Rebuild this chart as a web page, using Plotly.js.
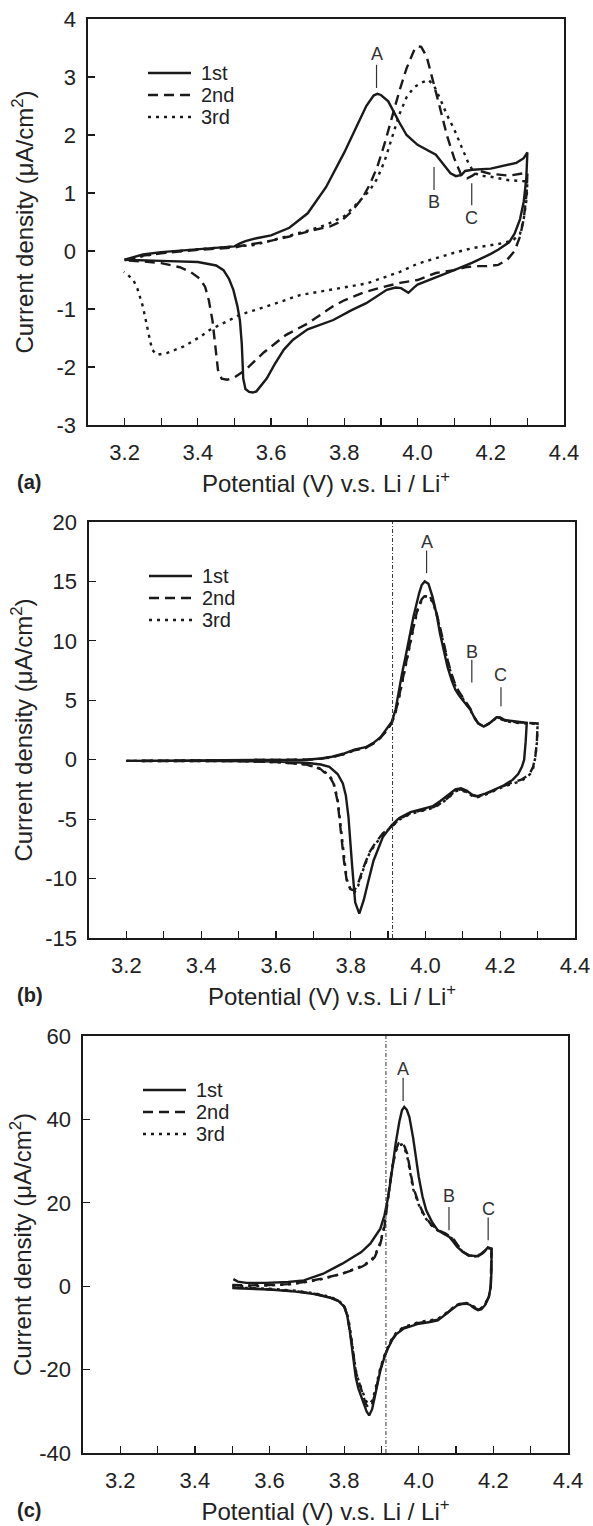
<!DOCTYPE html>
<html><head><meta charset="utf-8">
<script src="https://cdn.plot.ly/plotly-3.0.1.min.js"></script>
<style>html,body{margin:0;padding:0;background:#fff}#chart{width:593px;height:1526px}</style>
</head><body><div id="chart"></div><script>
// ---------- tick labels ----------
const xTickVals = [3.2, 3.4, 3.6, 3.8, 4.0, 4.2, 4.4];
const xTickText = ['3.2', '3.4', '3.6', '3.8', '4.0', '4.2', '4.4'];
const yTickValsA = [-3, -2, -1, 0, 1, 2, 3, 4];
const yTickTextA = ['-3', '-2', '-1', '0', '1', '2', '3', '4'];
const yTickValsB = [-15, -10, -5, 0, 5, 10, 15, 20];
const yTickTextB = ['-15', '-10', '-5', '0', '5', '10', '15', '20'];
const yTickValsC = [-40, -20, 0, 20, 40, 60];
const yTickTextC = ['-40', '-20', '0', '20', '40', '60'];
const cycleNames = ['1st', '2nd', '3rd'];

// ---------- panel (a) ----------
const a1x = [3.20,3.25,3.30,3.40,3.50,3.515,3.53,3.56,3.60,3.65,3.70,3.75,3.80,3.83,3.86,3.88,3.89,3.90,3.92,3.95,3.97,4.00,4.03,4.05,4.07,4.09,4.105,4.12,4.13,4.15,4.20,4.25,4.27,4.29,4.30,
  4.297,4.29,4.28,4.265,4.25,4.22,4.20,4.15,4.10,4.05,4.00,3.99,3.975,3.955,3.94,3.916,3.89,3.86,3.82,3.77,3.70,3.66,3.635,3.61,3.588,3.575,3.56,3.55,3.54,3.53,3.524,3.52,3.515,3.508,3.497,3.485,3.47,3.45,3.40,3.30,3.20];
const a1y = [-0.15,-0.06,-0.02,0.03,0.08,0.13,0.17,0.22,0.27,0.40,0.65,1.10,1.70,2.10,2.50,2.68,2.71,2.69,2.58,2.22,2.00,1.83,1.73,1.66,1.50,1.34,1.29,1.31,1.38,1.40,1.42,1.50,1.52,1.60,1.70,
  1.25,0.85,0.55,0.30,0.15,0.02,-0.05,-0.20,-0.33,-0.45,-0.58,-0.63,-0.72,-0.64,-0.63,-0.67,-0.78,-0.90,-1.02,-1.19,-1.35,-1.53,-1.70,-1.95,-2.20,-2.30,-2.42,-2.44,-2.43,-2.38,-2.20,-1.60,-1.20,-0.95,-0.67,-0.48,-0.33,-0.25,-0.19,-0.17,-0.15];
const a2x = [3.20,3.25,3.30,3.40,3.50,3.52,3.55,3.588,3.65,3.715,3.76,3.788,3.82,3.85,3.87,3.89,3.91,3.93,3.95,3.97,3.99,4.00,4.01,4.025,4.04,4.06,4.08,4.10,4.12,4.135,4.15,4.17,4.20,4.25,4.30,
  4.298,4.29,4.28,4.265,4.245,4.22,4.19,4.16,4.13,4.10,4.05,4.00,3.952,3.906,3.85,3.80,3.77,3.70,3.64,3.58,3.53,3.50,3.48,3.465,3.455,3.447,3.44,3.43,3.42,3.406,3.38,3.351,3.30,3.25,3.20];
const a2y = [-0.16,-0.08,-0.04,0.02,0.06,0.09,0.12,0.16,0.25,0.36,0.42,0.50,0.68,0.92,1.15,1.45,1.85,2.30,2.75,3.15,3.45,3.53,3.52,3.35,3.00,2.50,2.00,1.60,1.30,1.25,1.30,1.38,1.33,1.30,1.35,
  1.00,0.55,0.25,0.00,-0.15,-0.24,-0.26,-0.26,-0.28,-0.33,-0.38,-0.50,-0.55,-0.62,-0.72,-0.85,-0.95,-1.25,-1.45,-1.75,-2.05,-2.18,-2.22,-2.20,-2.05,-1.60,-1.20,-0.85,-0.62,-0.48,-0.36,-0.28,-0.21,-0.18,-0.16];
const a3x = [3.20,3.30,3.40,3.50,3.55,3.60,3.65,3.70,3.75,3.80,3.84,3.87,3.89,3.91,3.93,3.95,3.97,3.99,4.01,4.03,4.045,4.06,4.08,4.10,4.12,4.14,4.155,4.17,4.20,4.25,4.30,
  4.298,4.29,4.28,4.26,4.22,4.15,4.10,4.00,3.952,3.861,3.78,3.679,3.60,3.515,3.433,3.406,3.36,3.315,3.288,3.275,3.268,3.26,3.25,3.235,3.224,3.21,3.198];
const a3y = [-0.15,-0.03,0.03,0.07,0.10,0.18,0.26,0.35,0.45,0.60,0.85,1.05,1.25,1.55,1.95,2.35,2.65,2.82,2.90,2.95,2.85,2.65,2.35,2.10,1.80,1.50,1.35,1.30,1.28,1.22,1.20,
  0.90,0.55,0.30,0.18,0.12,0.05,-0.03,-0.22,-0.36,-0.56,-0.65,-0.76,-0.93,-1.10,-1.36,-1.48,-1.65,-1.76,-1.79,-1.70,-1.50,-1.25,-0.96,-0.65,-0.50,-0.42,-0.36];

// ---------- panel (b) ----------
const b1x = [3.20,3.40,3.60,3.68,3.72,3.75,3.78,3.81,3.84,3.86,3.88,3.895,3.91,3.92,3.927,3.937,3.947,3.958,3.968,3.983,3.99,3.998,4.008,4.019,4.03,4.039,4.049,4.059,4.07,4.08,4.09,4.10,4.11,4.12,4.13,4.141,4.156,4.171,4.19,4.20,4.212,4.243,4.271,
  4.268,4.264,4.258,4.248,4.233,4.21,4.182,4.16,4.139,4.125,4.11,4.095,4.08,4.06,4.039,4.02,3.998,3.96,3.93,3.91,3.886,3.861,3.845,3.835,3.823,3.812,3.804,3.798,3.794,3.787,3.779,3.765,3.743,3.72,3.68,3.60,3.50,3.40,3.20];
const b1y = [-0.10,-0.08,-0.05,0.00,0.10,0.25,0.50,0.85,1.05,1.40,1.90,2.50,3.20,4.20,5.60,7.20,8.70,10.40,12.05,14.00,14.70,15.00,14.80,13.70,12.20,10.60,9.10,7.80,6.70,5.90,5.40,5.00,4.60,4.20,3.60,3.06,2.78,3.06,3.57,3.55,3.34,3.20,3.10,
  1.50,0.00,-0.60,-1.20,-1.70,-2.15,-2.55,-2.85,-3.06,-2.95,-2.60,-2.40,-2.50,-3.00,-3.50,-3.90,-4.10,-4.40,-4.90,-5.50,-6.50,-8.50,-10.50,-11.80,-12.95,-12.00,-9.00,-6.50,-4.80,-3.00,-2.00,-1.20,-0.60,-0.40,-0.25,-0.15,-0.12,-0.10,-0.10];
const b2x = [3.20,3.40,3.60,3.68,3.72,3.75,3.78,3.81,3.84,3.86,3.88,3.895,3.91,3.92,3.93,3.94,3.95,3.96,3.97,3.98,3.99,4.00,4.01,4.02,4.03,4.04,4.05,4.06,4.07,4.08,4.09,4.10,4.11,4.12,4.13,4.141,4.156,4.171,4.19,4.20,4.212,4.243,4.30,
  4.298,4.294,4.288,4.28,4.27,4.255,4.233,4.21,4.182,4.16,4.139,4.125,4.11,4.095,4.08,4.06,4.039,4.02,3.998,3.96,3.93,3.91,3.886,3.866,3.85,3.835,3.82,3.81,3.80,3.789,3.782,3.774,3.765,3.754,3.745,3.72,3.68,3.60,3.50,3.20];
const b2y = [-0.10,-0.08,-0.05,0.00,0.08,0.22,0.45,0.80,1.00,1.35,1.85,2.40,3.10,4.00,5.40,7.00,8.40,10.00,11.50,12.80,13.50,13.85,13.80,13.30,12.30,11.00,9.60,8.30,7.20,6.30,5.70,5.20,4.80,4.30,3.60,3.06,2.80,3.06,3.55,3.50,3.30,3.15,3.05,
  1.50,0.30,-0.60,-1.10,-1.40,-1.70,-1.90,-2.20,-2.60,-2.90,-3.10,-3.00,-2.70,-2.50,-2.60,-3.20,-3.70,-4.00,-4.20,-4.50,-5.00,-5.60,-6.20,-7.00,-7.80,-9.00,-10.40,-11.00,-10.90,-10.10,-8.50,-6.20,-3.50,-2.00,-1.50,-0.80,-0.40,-0.20,-0.12,-0.10];
const b3x = [3.20,3.40,3.60,3.68,3.72,3.75,3.78,3.81,3.84,3.86,3.88,3.895,3.91,3.92,3.93,3.94,3.95,3.96,3.97,3.98,3.99,4.00,4.01,4.02,4.03,4.04,4.05,4.06,4.07,4.08,4.09,4.10,4.11,4.12,4.13,4.141,4.156,4.171,4.19,4.20,4.212,4.243,4.30,
  4.298,4.294,4.288,4.28,4.27,4.255,4.233,4.21,4.182,4.16,4.139,4.125,4.11,4.095,4.08,4.06,4.039,4.02,3.998,3.96,3.93,3.91,3.886,3.866,3.85,3.835,3.82,3.81,3.80,3.789,3.782,3.774,3.765,3.754,3.745,3.72,3.68,3.60,3.50,3.20];
const b3y = [-0.10,-0.08,-0.05,0.00,0.08,0.22,0.45,0.80,1.00,1.35,1.85,2.40,3.10,4.00,5.30,6.90,8.30,9.90,11.40,12.70,13.40,13.75,13.70,13.20,12.20,10.90,9.50,8.20,7.10,6.20,5.60,5.10,4.70,4.20,3.55,3.06,2.80,3.06,3.50,3.45,3.25,3.10,3.00,
  1.40,0.20,-0.70,-1.20,-1.50,-1.80,-2.00,-2.25,-2.65,-2.95,-3.15,-3.05,-2.75,-2.55,-2.65,-3.25,-3.75,-4.05,-4.25,-4.55,-5.05,-5.65,-6.30,-7.10,-7.90,-9.10,-10.60,-11.20,-11.00,-10.00,-8.20,-5.80,-3.30,-1.90,-1.40,-0.75,-0.40,-0.20,-0.12,-0.10];

// ---------- panel (c) ----------
const c1x = [3.503,3.515,3.538,3.59,3.65,3.692,3.744,3.795,3.846,3.87,3.882,3.897,3.908,3.918,3.928,3.938,3.948,3.955,3.961,3.968,3.975,3.985,4.00,4.01,4.02,4.035,4.051,4.065,4.082,4.093,4.103,4.12,4.133,4.159,4.175,4.185,4.195,
  4.195,4.193,4.188,4.178,4.168,4.159,4.148,4.138,4.128,4.115,4.103,4.09,4.075,4.06,4.051,4.03,4.00,3.98,3.959,3.94,3.928,3.918,3.908,3.897,3.89,3.882,3.875,3.867,3.86,3.853,3.846,3.838,3.831,3.823,3.815,3.808,3.80,3.785,3.76,3.72,3.67,3.60,3.55,3.50];
const c1y = [1.7,1.1,0.8,0.8,1.0,1.4,3.0,5.4,8.2,10.2,11.8,13.8,17.0,21.4,27.5,34.2,39.5,42.2,43.0,42.3,40.5,35.5,26.2,21.5,18.2,15.5,13.4,12.6,11.8,10.6,9.4,8.1,7.4,7.2,8.2,9.3,9.0,
  4.0,0.0,-2.5,-4.5,-5.5,-5.76,-5.2,-4.5,-4.2,-4.3,-4.6,-5.5,-6.7,-7.7,-8.2,-8.6,-9.0,-9.6,-10.2,-11.5,-13.0,-14.8,-17.0,-20.2,-23.5,-26.6,-29.5,-31.0,-30.0,-28.2,-26.6,-24.5,-21.8,-16.0,-10.6,-7.0,-4.9,-3.6,-2.7,-1.9,-1.3,-0.8,-0.6,-0.45];
const c2x = [3.50,3.55,3.60,3.65,3.692,3.74,3.795,3.846,3.87,3.882,3.897,3.908,3.918,3.928,3.938,3.946,3.954,3.962,3.969,3.977,3.985,4.00,4.015,4.031,4.05,4.072,4.092,4.103,4.12,4.135,4.15,4.165,4.178,4.188,4.195,
  4.195,4.193,4.188,4.178,4.168,4.159,4.148,4.138,4.128,4.115,4.103,4.09,4.075,4.06,4.051,4.03,4.00,3.98,3.959,3.94,3.928,3.918,3.908,3.897,3.89,3.882,3.875,3.865,3.858,3.852,3.846,3.838,3.831,3.823,3.815,3.808,3.80,3.785,3.76,3.72,3.67,3.60,3.55,3.50];
const c2y = [0.3,0.2,0.3,0.5,1.0,1.8,3.0,4.6,5.8,7.0,10.2,14.2,21.4,28.0,32.6,34.3,34.6,33.5,31.8,28.0,23.8,19.8,17.0,15.0,13.6,12.6,11.5,10.0,8.2,7.4,7.2,7.6,8.6,9.3,9.0,
  4.0,0.0,-2.5,-4.4,-5.4,-5.6,-5.1,-4.4,-4.1,-4.2,-4.5,-5.3,-6.5,-7.5,-8.0,-8.4,-8.8,-9.4,-10.0,-11.3,-12.8,-14.6,-16.8,-20.0,-23.0,-26.0,-28.3,-29.2,-28.2,-26.5,-25.0,-23.0,-20.5,-15.0,-10.0,-6.8,-4.8,-3.5,-2.6,-1.8,-1.2,-0.7,-0.5,-0.35];
const c3x = [3.50,3.55,3.60,3.65,3.692,3.74,3.795,3.846,3.87,3.882,3.897,3.908,3.918,3.928,3.938,3.946,3.954,3.962,3.969,3.977,3.985,4.00,4.015,4.031,4.05,4.072,4.092,4.103,4.12,4.135,4.15,4.165,4.178,4.188,4.195,
  4.195,4.193,4.188,4.178,4.168,4.159,4.148,4.138,4.128,4.115,4.103,4.09,4.075,4.06,4.051,4.03,4.00,3.98,3.959,3.94,3.928,3.918,3.908,3.897,3.89,3.882,3.875,3.865,3.858,3.852,3.846,3.838,3.831,3.823,3.815,3.808,3.80,3.785,3.76,3.72,3.67,3.60,3.55,3.50];
const c3y = [0.0,0.0,0.2,0.4,0.9,1.7,3.0,4.8,6.0,7.3,10.5,14.6,21.6,28.0,32.2,33.8,34.0,33.0,31.2,27.5,23.3,19.5,16.7,14.8,13.4,12.4,11.3,9.8,8.0,7.3,7.1,7.5,8.5,9.2,8.9,
  4.0,0.0,-2.4,-4.2,-5.2,-5.4,-4.9,-4.3,-4.0,-4.1,-4.4,-5.2,-6.3,-7.3,-7.8,-8.2,-8.6,-9.2,-9.8,-11.1,-12.6,-14.4,-16.6,-19.6,-22.5,-25.3,-27.5,-28.3,-27.4,-25.8,-24.4,-22.5,-20.0,-14.5,-9.6,-6.6,-4.7,-3.4,-2.5,-1.7,-1.1,-0.6,-0.4,-0.3];

// ---------- peak markers (A, B, C) ----------
const peakLabels = ['A', 'B', 'C'];
const peaksA = {x: [3.888, 4.045, 4.148], lineLo: [2.81, 1.05, 0.79], lineHi: [3.21, 1.45, 1.17], text: [3.40, 0.85, 0.57]};
const peaksB = {x: [4.003, 4.124, 4.202], lineLo: [15.7, 6.5, 4.5], lineHi: [17.6, 8.4, 6.1], text: [18.3, 9.1, 7.1]};
const peaksC = {x: [3.958, 4.081, 4.186], lineLo: [44.4, 13.4, 11.0], lineHi: [50.0, 19.0, 16.5], text: [52.0, 21.6, 18.6]};
const markerPotential = 3.912;

// ---------- layout helpers ----------
const W = 593, H = 1526;
const INK = '#1a1a1a';
const FONT = 'Liberation Sans, Arial, Helvetica, sans-serif';
const frames = [
  {l: 88, r: 564, t: 19, b: 425, ystand: 16},
  {l: 89, r: 575, t: 522, b: 938, ystand: 6},
  {l: 83, r: 568, t: 1036, b: 1453, ystand: 1}
];
const dashes = ['solid', '10px,6px', '3px,5px'];

function xAxis(f, anchor) {
  return {
    domain: [f.l / W, f.r / W], anchor: anchor, range: [3.1, 4.4],
    tickvals: xTickVals, ticktext: xTickText, ticks: 'inside', ticklen: 7, tickwidth: 1.2, tickcolor: INK,
    minor: {dtick: 0.1, tick0: 3.1, ticks: 'inside', ticklen: 7, tickwidth: 1.2, tickcolor: INK},
    showline: true, mirror: true, linecolor: INK, linewidth: 1.6, showgrid: false, zeroline: false,
    tickfont: {family: FONT, size: 22, color: '#222'}, ticklabelstandoff: 7,
    title: {text: 'Potential (V) v.s. Li / Li<sup>+</sup>', font: {family: FONT, size: 24, color: '#222'}, standoff: 11},
    fixedrange: true
  };
}
function yAxis(f, anchor, vals, text, range) {
  return {
    domain: [1 - f.b / H, 1 - f.t / H], anchor: anchor, range: range,
    tickvals: vals, ticktext: text, ticks: 'inside', ticklen: 7, tickwidth: 1.2, tickcolor: INK,
    showline: true, mirror: true, linecolor: INK, linewidth: 1.6, showgrid: false, zeroline: false,
    tickfont: {family: FONT, size: 22, color: '#222'}, ticklabelstandoff: 6,
    title: {text: 'Current density (μA/cm<sup>2</sup>)', font: {family: FONT, size: 24, color: '#222'}, standoff: f.ystand},
    fixedrange: true
  };
}

const panels = [
  {xs: [a1x, a2x, a3x], ys: [a1y, a2y, a3y], ax: 'x', ay: 'y', peaks: peaksA, label: '(a)'},
  {xs: [b1x, b2x, b3x], ys: [b1y, b2y, b3y], ax: 'x2', ay: 'y2', peaks: peaksB, label: '(b)'},
  {xs: [c1x, c2x, c3x], ys: [c1y, c2y, c3y], ax: 'x3', ay: 'y3', peaks: peaksC, label: '(c)'}
];

const traces = [];
const shapes = [];
const annotations = [];
panels.forEach((p, i) => {
  const f = frames[i];
  for (let k = 0; k < 3; k++) {
    traces.push({
      type: 'scatter', mode: 'lines', x: p.xs[k], y: p.ys[k], name: cycleNames[k],
      xaxis: p.ax, yaxis: p.ay, showlegend: false,
      line: {color: INK, width: 2.4, dash: dashes[k]}, hoverinfo: 'skip'
    });
    // legend key (drawn in the panel's upper-left corner)
    const rowY = 1 - (f.t + 54 + 22 * k) / H;
    shapes.push({type: 'line', xref: 'paper', yref: 'paper', x0: (f.l + 60) / W, x1: (f.l + 103) / W,
      y0: rowY, y1: rowY, line: {color: INK, width: 2.4, dash: dashes[k]}});
    annotations.push({xref: 'paper', yref: 'paper', x: (f.l + 111) / W, y: rowY, text: cycleNames[k],
      showarrow: false, xanchor: 'left', yanchor: 'middle', font: {family: FONT, size: 20, color: '#222'}});
  }
  for (let j = 0; j < 3; j++) {
    shapes.push({type: 'line', xref: p.ax, yref: p.ay, x0: p.peaks.x[j], x1: p.peaks.x[j],
      y0: p.peaks.lineLo[j], y1: p.peaks.lineHi[j], line: {color: '#333', width: 1.2}});
    annotations.push({xref: p.ax, yref: p.ay, x: p.peaks.x[j], y: p.peaks.text[j], text: peakLabels[j],
      showarrow: false, font: {family: FONT, size: 18, color: '#333'}, xanchor: 'center', yanchor: 'middle'});
  }
  annotations.push({xref: 'paper', yref: 'paper', x: 15 / W, y: 1 - (f.b + 57) / H, text: '<b>' + p.label + '</b>',
    showarrow: false, xanchor: 'left', yanchor: 'middle', font: {family: FONT, size: 20, color: '#222'}});
});
shapes.push({type: 'line', xref: 'x2', yref: 'y2 domain', x0: markerPotential, x1: markerPotential, y0: 0, y1: 1,
  line: {color: '#333', width: 1, dash: '4px,2px,1px,2px'}});
shapes.push({type: 'line', xref: 'x3', yref: 'y3 domain', x0: markerPotential, x1: markerPotential, y0: 0, y1: 1,
  line: {color: '#333', width: 1, dash: '4px,2px,1px,2px'}});

const layout = {
  width: W, height: H, margin: {l: 0, r: 0, t: 0, b: 0}, paper_bgcolor: '#fff', plot_bgcolor: '#fff',
  showlegend: false,
  xaxis: xAxis(frames[0], 'y'), yaxis: yAxis(frames[0], 'x', yTickValsA, yTickTextA, [-3, 4]),
  xaxis2: xAxis(frames[1], 'y2'), yaxis2: yAxis(frames[1], 'x2', yTickValsB, yTickTextB, [-15, 20]),
  xaxis3: xAxis(frames[2], 'y3'), yaxis3: yAxis(frames[2], 'x3', yTickValsC, yTickTextC, [-40, 60]),
  shapes: shapes, annotations: annotations
};

Plotly.newPlot('chart', traces, layout, {staticPlot: true, displayModeBar: false});
</script></body></html>
